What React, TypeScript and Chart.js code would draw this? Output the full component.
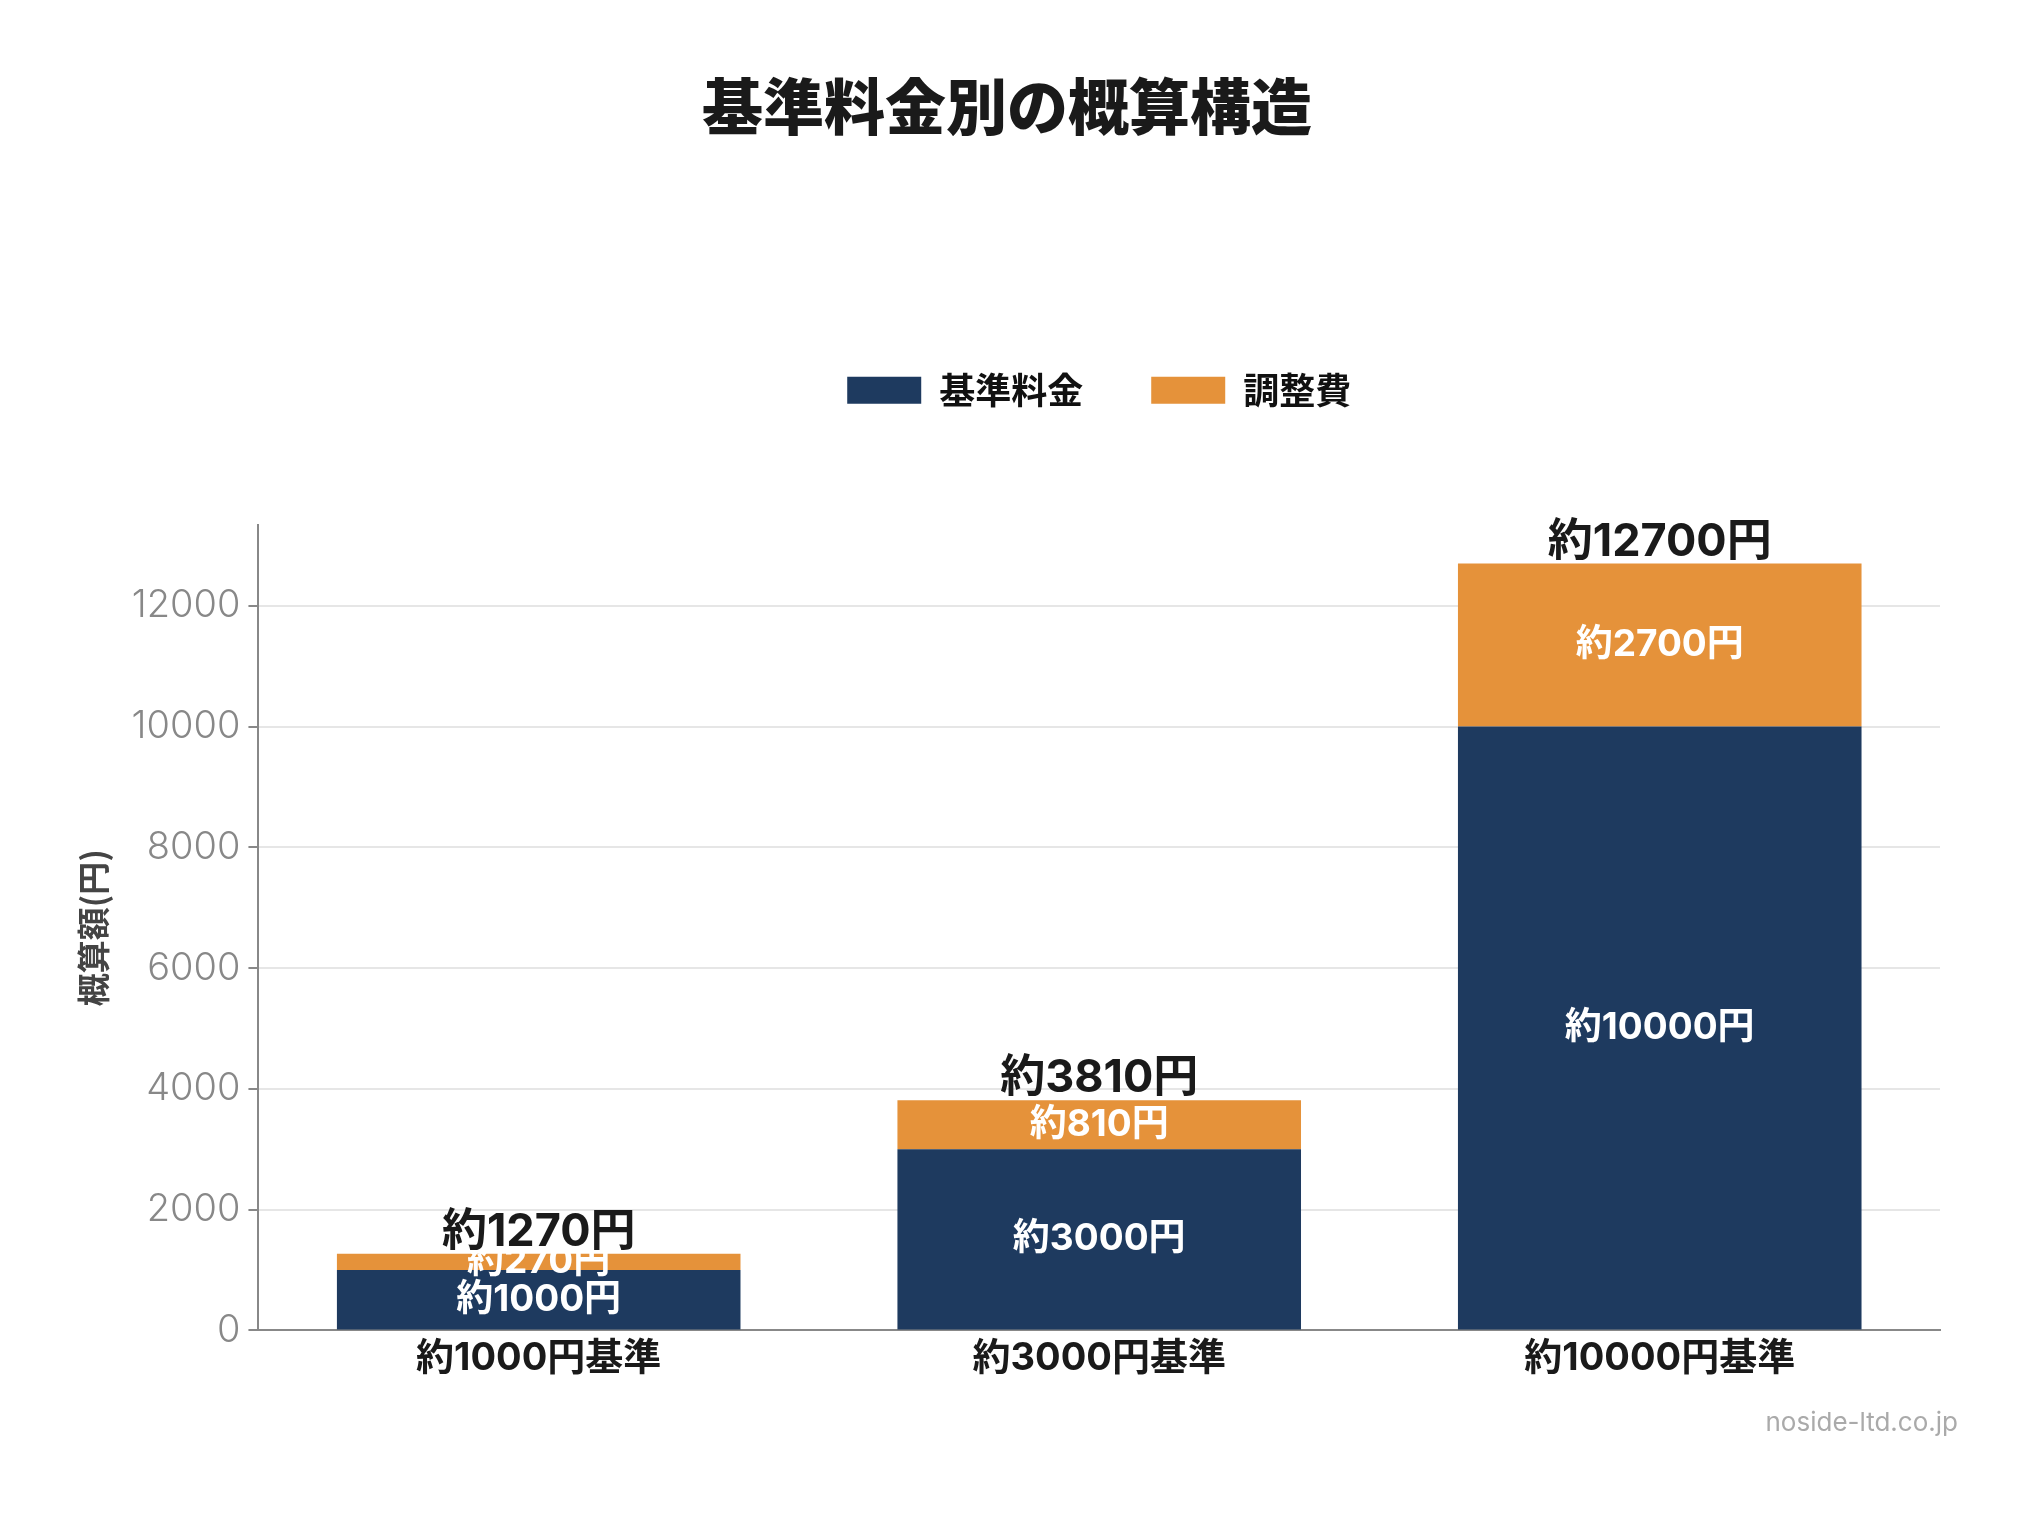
import React, { useEffect, useRef } from 'react';
import { Chart, registerables } from 'chart.js';

Chart.register(...registerables);

const categories = ['約1000円基準', '約3000円基準', '約10000円基準'];
const baseFee = [1000, 3000, 10000];
const adjustFee = [270, 810, 2700];
const seriesNames = ['基準料金', '調整費'];
const totals = [1270, 3810, 12700];
const yTicks = [0, 2000, 4000, 6000, 8000, 10000, 12000];

const JP = '"Noto Sans CJK JP", sans-serif';
const MIX = 'Inter, "Noto Sans CJK JP", sans-serif';

const barLabels = {
  id: 'barLabels',
  afterDatasetsDraw(chart: any) {
    const ctx = chart.ctx;
    ctx.save();
    ctx.textAlign = 'center';
    ctx.textBaseline = 'middle';
    chart.data.datasets.forEach((ds: any, di: number) => {
      const meta = chart.getDatasetMeta(di);
      meta.data.forEach((bar: any, i: number) => {
        const { x, y, base } = bar.getProps(['x', 'y', 'base'], true);
        ctx.fillStyle = '#ffffff';
        ctx.font = `bold 37px ${MIX}`;
        ctx.fillText(`約${ds.data[i]}円`, x, (y + base) / 2);
      });
    });
    // totals above the stack
    const topMeta = chart.getDatasetMeta(chart.data.datasets.length - 1);
    ctx.textBaseline = 'alphabetic';
    ctx.fillStyle = '#1a1a1a';
    ctx.font = `bold 45px ${MIX}`;
    topMeta.data.forEach((bar: any, i: number) => {
      ctx.fillText(`約${totals[i]}円`, bar.x, bar.y - 8);
    });
    ctx.restore();
  },
  afterDraw(chart: any) {
    const ctx = chart.ctx;
    ctx.save();
    ctx.textAlign = 'right';
    ctx.textBaseline = 'middle';
    ctx.fillStyle = '#aaaaaa';
    ctx.font = `26px ${MIX}`;
    ctx.fillText('noside-ltd.co.jp', chart.width - 82, 1423);
    ctx.restore();
  },
};

const legendGap = {
  id: 'legendGap',
  afterInit(chart: any) {
    const legend = chart.legend;
    const fit = legend.fit;
    legend.fit = function () {
      fit.call(this);
      this.height += 107;
    };
  },
};

const App = () => {
  const chartRef = useRef<HTMLCanvasElement>(null);

  useEffect(() => {
    document.body.style.margin = '0';
    if (!chartRef.current) return;
    const myChart = new Chart(chartRef.current, {
      type: 'bar',
      data: {
        labels: categories,
        datasets: [
          { label: seriesNames[0], data: baseFee, backgroundColor: '#1e3a5f' },
          { label: seriesNames[1], data: adjustFee, backgroundColor: '#e5923a' },
        ],
      },
      options: {
        animation: false,
        responsive: true,
        maintainAspectRatio: false,
        layout: { padding: { left: 74, right: 100, top: 0, bottom: 138 } },
        plugins: {
          title: {
            display: true,
            text: '基準料金別の概算構造',
            color: '#1a1a1a',
            font: { family: JP, size: 61, weight: 900 },
            padding: { top: 70, bottom: 161 },
          },
          legend: {
            fullSize: false,
            labels: {
              boxWidth: 74,
              boxHeight: 27,
              padding: 68,
              color: '#111111',
              font: { family: JP, size: 36, weight: 'bold' },
            },
          },
          tooltip: { enabled: false },
        },
        scales: {
          x: {
            stacked: true,
            grid: { display: false },
            border: { color: '#888888', width: 2 },
            ticks: {
              color: '#1a1a1a',
              padding: -3,
              font: { family: MIX, size: 38, weight: 'bold' },
            },
          },
          y: {
            stacked: true,
            min: 0,
            max: Math.max(...totals) * 1.05,
            afterBuildTicks: (axis: any) => {
              axis.ticks = yTicks.map((v) => ({ value: v }));
            },
            border: { color: '#888888', width: 2 },
            grid: { color: '#e6e6e6', lineWidth: 2, tickColor: '#888888', tickLength: 10 },
            ticks: {
              color: '#888888',
              padding: 8,
              callback: (v: any) => String(v),
              font: { family: MIX, size: 38, weight: 300 },
            },
            title: {
              display: true,
              text: '概算額(円)',
              color: '#444444',
              font: { family: JP, size: 33, weight: 'bold' },
              padding: { top: 0, bottom: 10 },
            },
          },
        },
      },
      plugins: [barLabels, legendGap],
    });
    return () => {
      myChart.destroy();
    };
  }, []);

  return (
    <div style={{ width: '2040px', height: '1516px', background: '#ffffff' }}>
      <canvas ref={chartRef} />
    </div>
  );
};

export default App;
